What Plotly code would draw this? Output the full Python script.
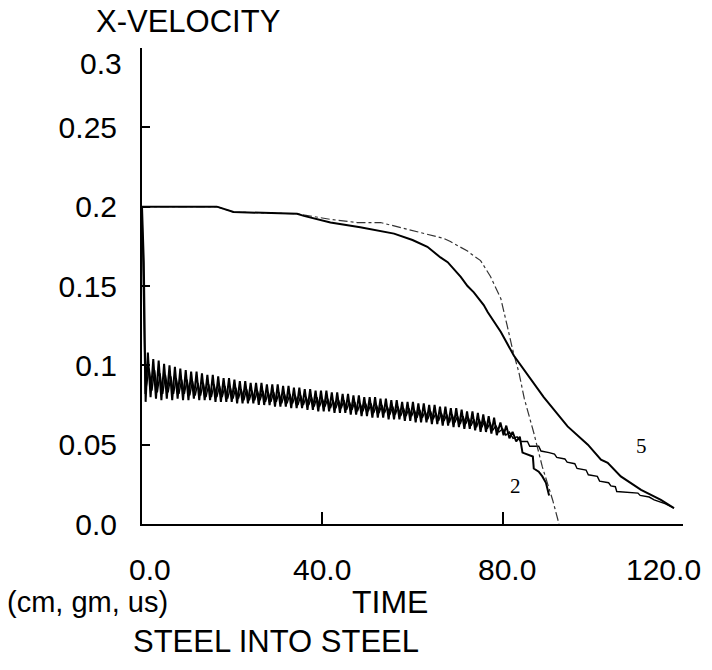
import plotly.graph_objects as go

# upper pair (rear of projectile), labelled 2 and 5
top5_t = [0, 16.6, 20.3, 34.4, 35.9, 41.8, 48.4, 52.9, 55.9, 60.0, 63.3, 66.2, 67.8, 70.7, 72.2,
          73.6, 75.8, 76.7, 79.6, 82.5, 86.2, 89.1, 94.4, 98.9, 101.8, 103.3, 106.2, 110.7, 115.1, 118.0]
top5_v = [0.200, 0.200, 0.1966, 0.1955, 0.1942, 0.190, 0.187, 0.1848, 0.183, 0.179, 0.1747, 0.168,
          0.165, 0.1557, 0.150, 0.146, 0.138, 0.1335, 0.121, 0.106, 0.091, 0.080, 0.0615, 0.050,
          0.0405, 0.0386, 0.030, 0.0215, 0.0152, 0.010]

top2_t = [0, 16.6, 20.3, 34.4, 41.8, 47.7, 52.9, 57.3, 59.6, 66.9, 68.4, 72.2, 73.6, 75.1, 77.3,
          78.9, 79.6, 81.0, 82.2, 83.6, 84.8, 86.9, 88.8, 91.1, 92.5]
top2_v = [0.200, 0.200, 0.1966, 0.1955, 0.192, 0.190, 0.190, 0.187, 0.185, 0.180, 0.178, 0.172,
          0.169, 0.166, 0.156, 0.146, 0.142, 0.125, 0.110, 0.0955, 0.079, 0.0575, 0.036, 0.015, 0.0]

# lower pair (interface), ringing
low2_t = [0, 0.4, 0.8, 1.3, 1.9, 2.5, 3.1, 3.7, 4.3, 4.9, 5.5, 6.1, 6.7, 7.3, 7.9, 8.5, 9.1, 9.7, 10.3,
          10.9, 11.5, 12.1, 12.7, 13.3, 13.9, 14.5, 15.1, 15.7, 16.3, 16.9, 17.5, 18.1, 18.7, 19.3, 19.9,
          20.5, 21.1, 21.7, 22.3, 22.9, 23.5, 24.1, 24.7, 25.3, 25.9, 26.5, 27.1, 27.7, 28.3, 28.9, 29.5,
          30.1, 30.7, 31.3, 31.9, 32.5, 33.1, 33.7, 34.3, 34.9, 35.5, 36.1, 36.7, 37.3, 37.9, 38.5, 39.1,
          39.7, 40.3, 40.9, 41.5, 42.1, 42.7, 43.3, 43.9, 44.5, 45.1, 45.7, 46.3, 46.9, 47.5, 48.1, 48.7,
          49.3, 49.9, 50.5, 51.1, 51.7, 52.3, 52.9, 53.5, 54.1, 54.7, 55.3, 55.9, 56.5, 57.1, 57.7, 58.3,
          58.9, 59.5, 60.1, 60.7, 61.3, 61.9, 62.5, 63.1, 63.7, 64.3, 64.9, 65.5, 66.1, 66.7, 67.3, 67.9,
          68.5, 69.1, 69.7, 70.3, 70.9, 71.5, 72.1, 72.7, 73.3, 73.9, 74.5, 75.1, 75.7, 76.3, 76.9, 77.5,
          78.1, 78.7, 79.5, 80.2, 80.8, 81.5, 82.2, 83.0, 83.8, 84.4, 85.5, 86.7, 86.9, 88.0, 88.8, 89.6, 90.3]
low2_v = [0.200, 0.165, 0.077, 0.108, 0.080, 0.104, 0.079, 0.103, 0.078, 0.101, 0.079, 0.100, 0.078,
          0.099, 0.079, 0.098, 0.078, 0.097, 0.078, 0.096, 0.079, 0.096, 0.078, 0.095, 0.078, 0.094,
          0.078, 0.094, 0.077, 0.093, 0.077, 0.092, 0.077, 0.092, 0.077, 0.091, 0.076, 0.090, 0.076,
          0.090, 0.076, 0.089, 0.076, 0.089, 0.075, 0.089, 0.075, 0.088, 0.075, 0.088, 0.074, 0.088,
          0.074, 0.087, 0.074, 0.087, 0.073, 0.086, 0.073, 0.086, 0.073, 0.085, 0.072, 0.085, 0.072,
          0.084, 0.071, 0.084, 0.071, 0.084, 0.071, 0.083, 0.070, 0.083, 0.070, 0.082, 0.070, 0.082,
          0.069, 0.081, 0.069, 0.081, 0.068, 0.080, 0.068, 0.080, 0.067, 0.080, 0.067, 0.079, 0.067,
          0.079, 0.066, 0.078, 0.066, 0.078, 0.066, 0.077, 0.065, 0.077, 0.065, 0.077, 0.064, 0.076,
          0.064, 0.076, 0.064, 0.075, 0.063, 0.075, 0.063, 0.074, 0.062, 0.074, 0.062, 0.073, 0.061,
          0.073, 0.061, 0.072, 0.060, 0.071, 0.060, 0.071, 0.059, 0.070, 0.058, 0.069, 0.058, 0.068,
          0.057, 0.067, 0.056, 0.064, 0.056, 0.062, 0.054, 0.058, 0.052, 0.055, 0.045, 0.044, 0.0425,
          0.035, 0.033, 0.030, 0.026, 0.018]

low5_t = [0, 0.3, 0.7, 1.6, 2.2, 2.8, 3.4, 4.0, 4.6, 5.2, 5.8, 6.4, 7.0, 7.6, 8.2, 8.8, 9.4, 10.0, 10.6,
          11.2, 11.8, 12.4, 13.0, 13.6, 14.2, 14.8, 15.4, 16.0, 16.6, 17.2, 17.8, 18.4, 19.0, 19.6, 20.2,
          20.8, 21.4, 22.0, 22.6, 23.2, 23.8, 24.4, 25.0, 25.6, 26.2, 26.8, 27.4, 28.0, 28.6, 29.2, 29.8,
          30.4, 31.0, 31.6, 32.2, 32.8, 33.4, 34.0, 34.6, 35.2, 35.8, 36.4, 37.0, 37.6, 38.2, 38.8, 39.4,
          40.0, 40.6, 41.2, 41.8, 42.4, 43.0, 43.6, 44.2, 44.8, 45.4, 46.0, 46.6, 47.2, 47.8, 48.4, 49.0,
          49.6, 50.2, 50.8, 51.4, 52.0, 52.6, 53.2, 53.8, 54.4, 55.0, 55.6, 56.2, 56.8, 57.4, 58.0, 58.6,
          59.2, 59.8, 60.4, 61.0, 61.6, 62.2, 62.8, 63.4, 64.0, 64.6, 65.2, 65.8, 66.4, 67.0, 67.6, 68.2,
          68.8, 69.4, 70.0, 70.6, 71.2, 71.8, 72.4, 73.0, 73.6, 74.2, 74.8, 75.4, 76.0, 76.6, 77.2, 77.8,
          78.5, 79.2, 80.0, 80.7, 81.5, 82.3, 83.2, 84.0, 85.5, 86.0, 88.0, 88.5, 90.3, 91.5, 92.0, 93.8,
          94.3, 96.0, 96.5, 98.5, 99.0, 101.0, 101.5, 103.5, 104.0, 105.0, 105.3, 108.0, 110.0, 110.5,
          112.5, 113.6, 116.0, 118.0]
low5_v = [0.200, 0.150, 0.082, 0.098, 0.084, 0.097, 0.083, 0.095, 0.082, 0.094, 0.083, 0.093, 0.082,
          0.092, 0.082, 0.091, 0.082, 0.091, 0.081, 0.090, 0.081, 0.089, 0.081, 0.089, 0.080, 0.088,
          0.080, 0.088, 0.080, 0.087, 0.080, 0.087, 0.079, 0.086, 0.079, 0.086, 0.079, 0.085, 0.078,
          0.085, 0.078, 0.084, 0.078, 0.084, 0.078, 0.084, 0.077, 0.083, 0.077, 0.083, 0.077, 0.083,
          0.076, 0.082, 0.076, 0.082, 0.076, 0.081, 0.075, 0.081, 0.075, 0.080, 0.075, 0.080, 0.074,
          0.080, 0.074, 0.079, 0.074, 0.079, 0.073, 0.078, 0.073, 0.078, 0.073, 0.078, 0.072, 0.077,
          0.072, 0.077, 0.071, 0.076, 0.071, 0.076, 0.071, 0.076, 0.070, 0.075, 0.070, 0.075, 0.070,
          0.074, 0.069, 0.074, 0.069, 0.074, 0.068, 0.073, 0.068, 0.073, 0.068, 0.072, 0.067, 0.072,
          0.067, 0.071, 0.066, 0.071, 0.066, 0.070, 0.065, 0.070, 0.065, 0.069, 0.064, 0.069, 0.064,
          0.068, 0.063, 0.068, 0.063, 0.067, 0.062, 0.066, 0.061, 0.066, 0.061, 0.065, 0.060, 0.064,
          0.059, 0.062, 0.058, 0.060, 0.056, 0.058, 0.054, 0.055, 0.052, 0.052, 0.049, 0.049, 0.046,
          0.045, 0.044, 0.042, 0.041, 0.039, 0.038, 0.035, 0.034, 0.031, 0.030, 0.027, 0.026, 0.024,
          0.0235, 0.0205, 0.020, 0.0195, 0.018, 0.017, 0.0152, 0.0128, 0.010]

x_ticks = [0, 40, 80, 120]
x_labels = ["0.0", "40.0", "80.0", "120.0"]
y_ticks = [0, 0.05, 0.1, 0.15, 0.2, 0.25, 0.3]
y_labels = ["0.0", "0.05", "0.1", "0.15", "0.2", "0.25", ""]

SANS = "Liberation Sans, Arial, sans-serif"
SERIF = "Liberation Serif, Times New Roman, serif"

W, H = 712, 670
L, R, T, B = 142, 29, 48, 146


def px(x):
    return (x - L) / (W - L - R)


def py(y):
    return 1 - (y - T) / (H - T - B)


fig = go.Figure()
fig.add_trace(go.Scatter(x=low2_t, y=low2_v, mode="lines", line=dict(color="black", width=2.0)))
fig.add_trace(go.Scatter(x=low5_t, y=low5_v, mode="lines", line=dict(color="black", width=1.4)))
fig.add_trace(go.Scatter(x=top2_t, y=top2_v, mode="lines",
                         line=dict(color="#333333", width=1.2, dash="dashdot")))
fig.add_trace(go.Scatter(x=top5_t, y=top5_v, mode="lines", line=dict(color="black", width=2)))

# curve numbers
fig.add_annotation(x=82.9, y=0.024, text="2", showarrow=False, font=dict(family=SERIF, size=21, color="black"))
fig.add_annotation(x=110.7, y=0.049, text="5", showarrow=False, font=dict(family=SERIF, size=21, color="black"))

txt = dict(family=SANS, size=30, color="black")
# texts placed in page pixels
fig.add_annotation(x=px(94), y=py(22), xref="paper", yref="paper", text="X-VELOCITY", showarrow=False,
                   xanchor="left", yanchor="middle", font=dict(family=SANS, size=31, color="black"))
fig.add_annotation(x=px(124), y=py(63), xref="paper", yref="paper", text="0.3", showarrow=False,
                   xanchor="right", yanchor="middle", font=txt)
for cx, lab in zip([150, 322, 507, 663], x_labels):
    fig.add_annotation(x=px(cx), y=py(569), xref="paper", yref="paper", text=lab, showarrow=False,
                       xanchor="center", yanchor="middle", font=txt)
fig.add_annotation(x=px(5), y=py(602), xref="paper", yref="paper", text="(cm, gm, us)", showarrow=False,
                   xanchor="left", yanchor="middle", font=dict(family=SANS, size=29, color="black"))
fig.add_annotation(x=px(390), y=py(602), xref="paper", yref="paper", text="TIME", showarrow=False,
                   xanchor="center", yanchor="middle", font=dict(family=SANS, size=32, color="black"))
fig.add_annotation(x=px(276), y=py(641), xref="paper", yref="paper", text="STEEL INTO STEEL", showarrow=False,
                   xanchor="center", yanchor="middle", font=dict(family=SANS, size=31, color="black"))

fig.update_layout(
    width=W, height=H,
    margin=dict(l=L, r=R, t=T, b=B),
    plot_bgcolor="white", paper_bgcolor="white",
    showlegend=False,
    font=txt,
)
fig.update_xaxes(range=[0, 120], tickvals=x_ticks, showticklabels=False, ticks="inside", ticklen=12,
                 tickwidth=1.5, tickcolor="black", showline=True, linecolor="black", linewidth=2,
                 showgrid=False, zeroline=False)
fig.update_yaxes(range=[0, 0.3], tickvals=y_ticks, ticktext=y_labels, ticks="inside", ticklen=8,
                 tickwidth=1.5, tickcolor="black", showline=True, linecolor="black", linewidth=2,
                 showgrid=False, zeroline=False, ticklabelstandoff=17)

# page default body margin would shift the figure by 8px
fig.write_html("out.html", config={"displayModeBar": False},
               post_script="document.body.style.margin='0';document.body.style.overflow='hidden';")
